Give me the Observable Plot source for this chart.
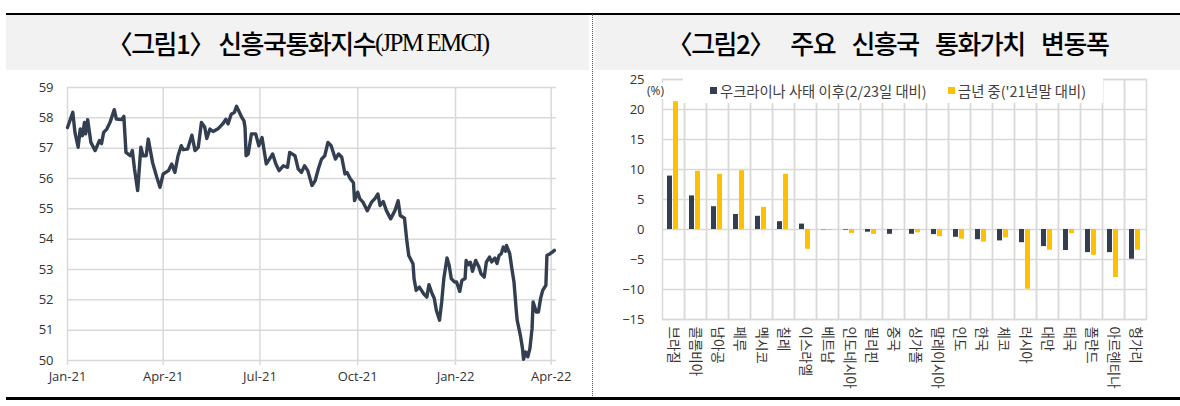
<!DOCTYPE html>
<html>
<head>
<meta charset="utf-8">
<script src="https://cdn.jsdelivr.net/npm/d3@7"></script>
<script src="https://cdn.jsdelivr.net/npm/@observablehq/plot@0.6"></script>
<style>
  html, body { margin: 0; padding: 0; background: #fff; }
  #page { position: relative; width: 1180px; height: 406px; overflow: hidden; background: #fff; }
  .abs { position: absolute; }
  .band { position: absolute; background: #F2F2F2; display: flex; align-items: center; justify-content: center;
          font-family: "Noto Sans CJK KR", sans-serif; font-size: 26px; font-weight: 500; color: #000; letter-spacing: -1.5px; white-space: nowrap; }
  .band .latin { font-family: "Liberation Serif", serif; letter-spacing: -1.8px; font-size: 25px; font-weight: 400; }
  #legend { position: absolute; background: #fff; font-family: "Noto Sans CJK KR", sans-serif; font-size: 14.3px; color: #404040; }
  #legend .item { position: absolute; top: 2px; white-space: nowrap; display: flex; align-items: center; }
  #legend .sw { display: inline-block; width: 7px; height: 7px; margin-right: 3px; }
  #pct { position: absolute; background: #fff; font-family: "Open Sans", sans-serif; font-size: 12px; color: #333; }
  #right g[aria-label="fx-axis tick label"] { font-size: 13.5px; font-family: "Noto Sans CJK KR", sans-serif; }
</style>
</head>
<body>
<div id="page">
  <div class="abs" style="left:6px; top:13px; width:1174px; height:2px; background:#000;"></div>
  <div class="band" style="left:6px; top:15px; width:583px; height:55px;"><span>〈그림1〉</span><span>&nbsp;신흥국통화지수</span><span class="latin">(JPM EMCI)</span></div>
  <div class="band" style="left:595px; top:15px; width:585px; height:55px; word-spacing:12px;"><span>〈그림2〉</span><span>&nbsp;주요 신흥국 통화가치 변동폭</span></div>
  <div class="abs" style="left:592px; top:14px; height:384px; border-left:1px dotted #555;"></div>
  <div id="left" class="abs" style="left:0px; top:70px;"></div>
  <div id="right" class="abs" style="left:592px; top:70px;"></div>
  <div id="pct" style="left:647px; top:83px; width:33px; height:16px; line-height:16px;">(%)</div>
  <div id="legend" style="left:683px; top:78px; width:420px; height:25px;"></div>
  <div class="abs" style="left:6px; top:397px; width:1174px; height:3px; background:#000;"></div>
</div>
<script>
// ---------- Figure 1: JPM EMCI ----------
const emciDates = [
"2021-01-01","2021-01-06","2021-01-08","2021-01-11","2021-01-13","2021-01-15","2021-01-17","2021-01-18","2021-01-20","2021-01-23",
"2021-01-27","2021-01-31","2021-02-02","2021-02-04","2021-02-07","2021-02-10","2021-02-14","2021-02-16","2021-02-21","2021-02-23",
"2021-02-25","2021-03-01","2021-03-03","2021-03-05","2021-03-08","2021-03-11","2021-03-13","2021-03-16","2021-03-18","2021-03-22",
"2021-03-26","2021-03-29","2021-04-01","2021-04-06","2021-04-09","2021-04-12","2021-04-15","2021-04-18","2021-04-20","2021-04-24",
"2021-04-28","2021-05-01","2021-05-04","2021-05-07","2021-05-10","2021-05-12","2021-05-15","2021-05-18","2021-05-23","2021-05-27",
"2021-05-30","2021-06-01","2021-06-04","2021-06-07","2021-06-09","2021-06-14","2021-06-16","2021-06-17","2021-06-18","2021-06-20",
"2021-06-23","2021-06-27","2021-06-30","2021-07-03","2021-07-07","2021-07-10","2021-07-13","2021-07-16","2021-07-19","2021-07-23",
"2021-07-27","2021-07-29","2021-08-03","2021-08-06","2021-08-09","2021-08-12","2021-08-15","2021-08-19","2021-08-22","2021-08-25",
"2021-08-28","2021-08-31","2021-09-03","2021-09-06","2021-09-10","2021-09-13","2021-09-16","2021-09-19","2021-09-21","2021-09-24",
"2021-09-27","2021-09-28","2021-10-01","2021-10-03","2021-10-06","2021-10-10","2021-10-14","2021-10-17","2021-10-20","2021-10-22",
"2021-10-25","2021-10-28","2021-11-01","2021-11-05","2021-11-08","2021-11-10","2021-11-14","2021-11-16","2021-11-18","2021-11-22",
"2021-11-23","2021-11-25","2021-11-28","2021-11-30","2021-12-02","2021-12-05","2021-12-07","2021-12-10","2021-12-12","2021-12-14",
"2021-12-17","2021-12-19","2021-12-21","2021-12-24","2021-12-26","2021-12-28","2021-12-31","2022-01-02","2022-01-05","2022-01-07",
"2022-01-10","2022-01-11","2022-01-13","2022-01-15","2022-01-17","2022-01-20","2022-01-23","2022-01-25","2022-01-28","2022-01-30",
"2022-02-02","2022-02-04","2022-02-07","2022-02-09","2022-02-11","2022-02-13","2022-02-15","2022-02-17","2022-02-18","2022-02-21",
"2022-02-23","2022-02-25","2022-02-27","2022-02-28","2022-03-03","2022-03-05","2022-03-06","2022-03-08","2022-03-10","2022-03-12",
"2022-03-14","2022-03-15","2022-03-18","2022-03-20","2022-03-22","2022-03-24","2022-03-27","2022-03-28","2022-03-31","2022-04-02",
"2022-04-04"];
const emciValues = [
57.68,58.18,57.52,57.03,57.63,57.41,57.85,57.47,57.94,57.19,
56.92,57.25,57.15,57.52,57.63,57.85,58.27,57.96,57.94,58.05,
56.86,56.75,56.92,56.32,55.60,57.03,56.75,56.75,57.30,56.53,
56.04,55.71,56.15,56.26,56.48,56.20,56.75,57.08,56.95,56.97,
57.43,56.92,57.03,57.85,57.70,57.32,57.63,57.55,57.65,57.80,
57.95,57.80,58.12,58.18,58.38,58.01,57.90,57.68,56.75,56.81,
57.47,57.47,57.08,57.35,56.48,56.64,56.81,56.48,56.26,56.42,
56.37,56.86,56.75,56.32,56.20,56.42,56.26,55.77,55.93,56.32,
56.64,56.75,57.19,57.08,56.64,56.81,56.70,56.15,56.20,55.99,
55.86,55.27,55.55,55.33,55.22,54.94,55.22,55.33,55.49,55.11,
55.24,54.94,54.67,54.94,55.27,54.78,54.69,54.01,53.46,53.19,
52.70,52.31,52.42,52.31,52.20,52.09,52.50,52.20,52.05,51.65,
51.33,51.93,52.70,53.38,53.14,52.70,52.59,52.59,52.28,52.64,
52.70,53.30,53.16,53.24,52.94,53.30,53.08,52.86,52.75,53.24,
53.41,53.25,53.38,53.20,53.46,53.52,53.74,53.60,53.79,53.52,
53.03,52.59,51.71,51.33,50.83,50.40,50.04,50.28,50.12,50.40,
51.05,51.93,51.60,51.60,52.04,52.31,52.48,53.46,53.52,53.57,
53.63];
const emciYTicks = [50, 51, 52, 53, 54, 55, 56, 57, 58, 59];
const emciXTickDates = ["2021-01-01","2021-04-01","2021-07-01","2021-10-01","2022-01-01","2022-04-01"];
const emciXTickLabels = ["Jan-21","Apr-21","Jul-21","Oct-21","Jan-22","Apr-22"];

// ---------- Figure 2: currency changes ----------
const countries = ["브라질","콜롬비아","남아공","페루","멕시코","칠레","이스라엘","베트남","인도네시아","필리핀","중국",
                   "싱가폴","말레이시아","인도","한국","체코","러시아","대만","태국","폴란드","아르헨티나","헝가리"];
const sinceUkraine = [8.9, 5.6, 3.8, 2.5, 2.2, 1.3, 0.9, -0.05, -0.1, -0.45, -0.8,
                      -0.8, -0.85, -1.3, -1.7, -1.9, -2.2, -2.85, -3.5, -3.85, -3.85, -4.95];
const yearToDate   = [21.3, 9.7, 9.2, 9.8, 3.7, 9.2, -3.3, -0.1, -0.65, -0.8, -0.1,
                      -0.55, -1.2, -1.6, -2.1, -1.4, -9.95, -3.45, -0.7, -4.3, -8.0, -3.45];
const seriesNames = ["우크라이나 사태 이후(2/23일 대비)", "금년 중('21년말 대비)"];
const seriesColors = ["#333F50", "#FFC000"];
const barYTicks = [-15, -10, -5, 0, 5, 10, 15, 20, 25];

const gridColor = "#D9D9D9";
const tickFont = "Open Sans, sans-serif";

// ---- left chart ----
const emciData = emciDates.map((d, i) => ({date: new Date(d), value: emciValues[i]}));
const xTicks = emciXTickDates.map(d => new Date(d));
const left = Plot.plot({
  width: 590, height: 326,
  marginLeft: 67, marginRight: 34, marginTop: 17, marginBottom: 36,
  style: {fontFamily: tickFont, fontSize: "13px", color: "#333", background: "transparent"},
  x: {type: "utc", domain: [new Date("2021-01-01"), new Date("2022-04-06")]},
  y: {domain: [50, 59]},
  marks: [
    Plot.gridY(emciYTicks, {stroke: gridColor, strokeOpacity: 1, strokeWidth: 1.5}),
    Plot.gridX(xTicks, {stroke: gridColor, strokeOpacity: 1, strokeWidth: 1.5, insetBottom: -5}),
    Plot.axisY(emciYTicks, {tickSize: 0, tickPadding: 14, label: null, fontSize: 13}),
    Plot.axisX(xTicks, {tickSize: 0, tickPadding: 11, label: null, fontSize: 13,
      tickFormat: d => emciXTickLabels[xTicks.findIndex(t => +t === +d)]}),
    Plot.line(emciData, {x: "date", y: "value", stroke: "#333F50", strokeWidth: 3.4, strokeLinejoin: "round"})
  ]
});
document.getElementById("left").appendChild(left);

// ---- right chart ----
const barData = countries.flatMap((c, i) => [
  {country: c, series: seriesNames[0], value: sinceUkraine[i]},
  {country: c, series: seriesNames[1], value: yearToDate[i]}
]);
const rightW = 588, rightML = 67, rightMR = 32;
const facetHalf = (rightW - rightML - rightMR) / countries.length / 2;
const right = Plot.plot({
  width: rightW, height: 336,
  marginLeft: rightML, marginRight: rightMR, marginTop: 9, marginBottom: 87,
  style: {fontFamily: tickFont, fontSize: "13px", color: "#333", background: "transparent"},
  fx: {domain: countries, padding: 0, label: null},
  x: {domain: seriesNames, paddingInner: 0.1, paddingOuter: 0.8, axis: null},
  y: {domain: [-15, 25]},
  color: {domain: seriesNames, range: seriesColors},
  marks: [
    Plot.gridY(barYTicks, {stroke: gridColor, strokeOpacity: 1, strokeWidth: 1.5}),
    Plot.frame({stroke: gridColor, strokeWidth: 1.5}),
    // short category-boundary ticks below the bottom of the frame
    Plot.ruleX(countries, {fx: d => d, y1: -15, y2: -15, insetBottom: -6, dx: -facetHalf,
                           stroke: gridColor, strokeWidth: 1.5}),
    Plot.ruleX(countries.slice(-1), {fx: d => d, y1: -15, y2: -15, insetBottom: -6, dx: facetHalf,
                           stroke: gridColor, strokeWidth: 1.5}),
    Plot.axisY(barYTicks, {tickSize: 0, tickPadding: 18, label: null, fontSize: 13}),
    Plot.axisFx({anchor: "bottom", tickRotate: 90, tickSize: 0, tickPadding: 7, label: null, fontSize: 13.5,
                 fontFamily: "Noto Sans CJK KR, sans-serif", textAnchor: "start"}),
    Plot.barY(barData, {fx: "country", x: "series", y: "value", fill: "series"})
  ]
});
document.getElementById("right").appendChild(right);

// ---- legend ----
const legend = document.getElementById("legend");
const legendLefts = [27, 265];
seriesNames.forEach((name, i) => {
  const item = document.createElement("div");
  item.className = "item";
  item.style.left = legendLefts[i] + "px";
  const sw = document.createElement("span");
  sw.className = "sw";
  sw.style.background = seriesColors[i];
  item.appendChild(sw);
  item.appendChild(document.createTextNode(name));
  legend.appendChild(item);
});
</script>
</body>
</html>
